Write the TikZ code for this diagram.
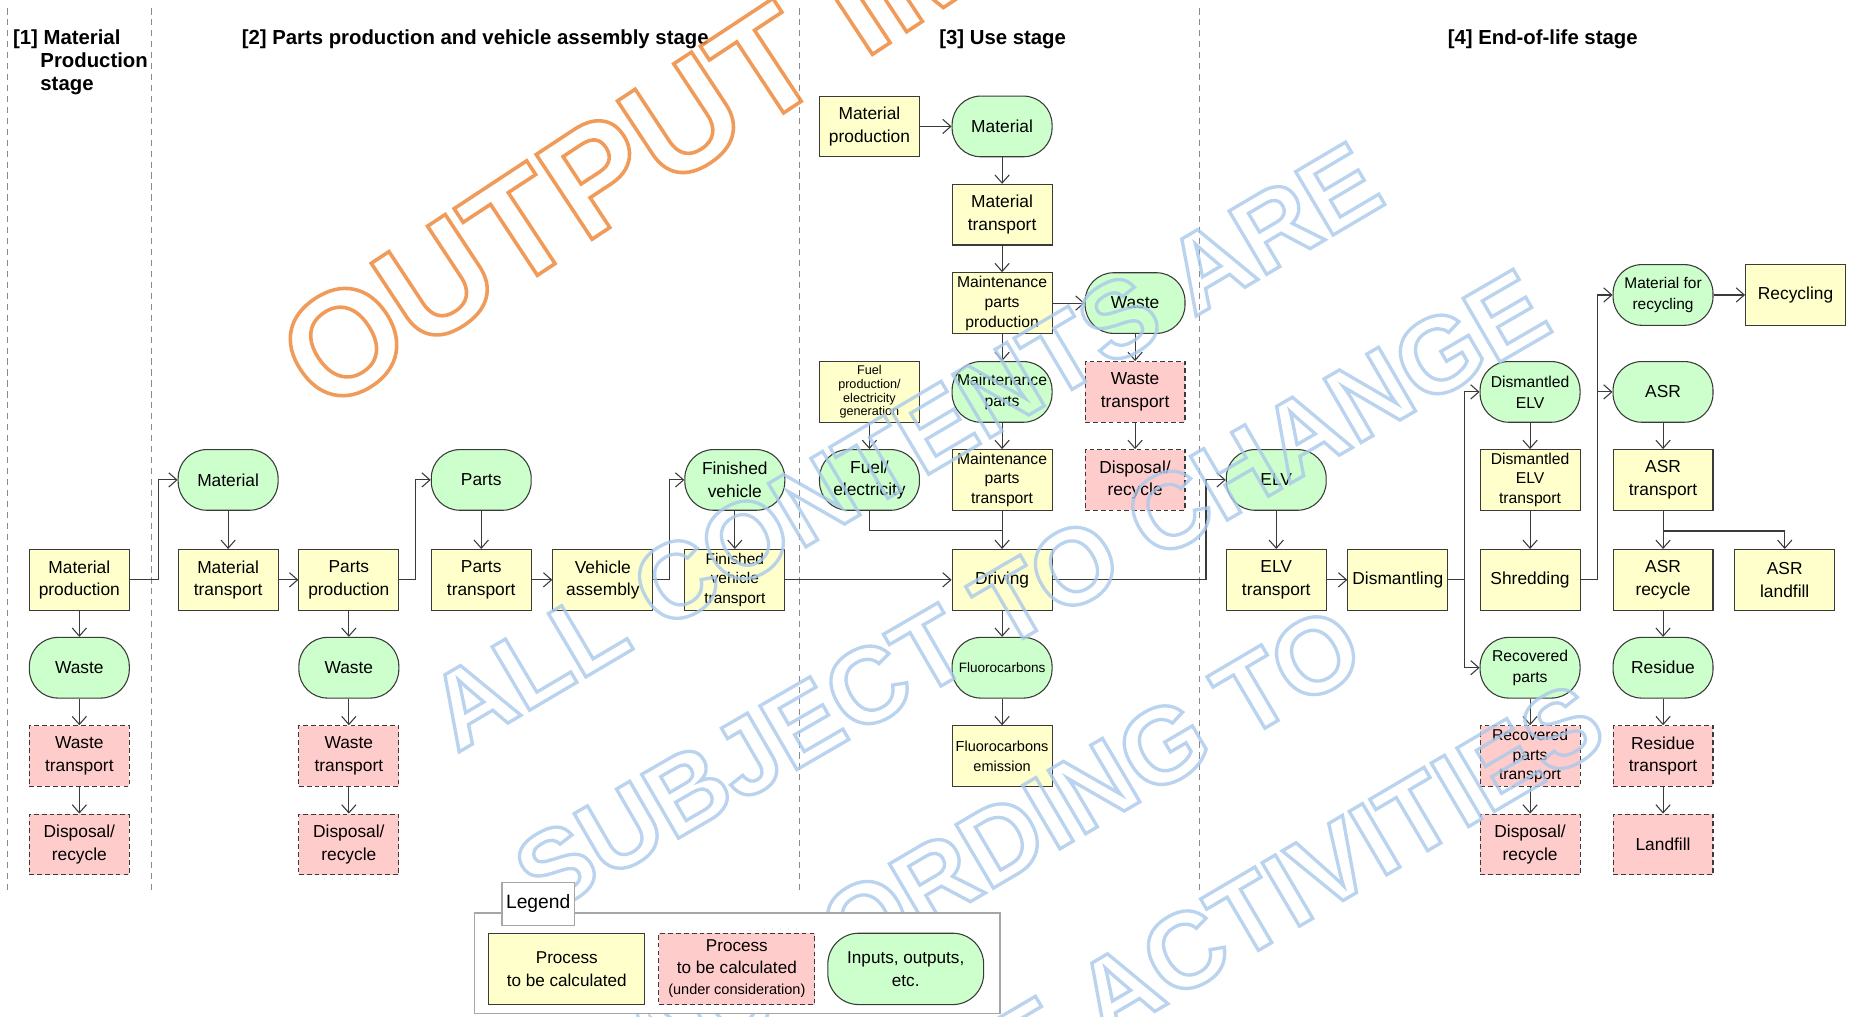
\documentclass[tikz,border=0pt]{standalone}
\usepackage{fontspec}
\setmainfont{Liberation Sans}
\usetikzlibrary{arrows.meta,calc}
\definecolor{yel}{HTML}{FFFFCC}
\definecolor{grn}{HTML}{CCFFCC}
\definecolor{pnk}{HTML}{FFCCCC}
\definecolor{edgec}{HTML}{3A3A3A}
\definecolor{sepc}{HTML}{8A8A8A}
\definecolor{lgc}{HTML}{A6A6A6}
\definecolor{wmor}{HTML}{EE8A3C}
\definecolor{wmbl}{HTML}{A9C9EA}
\tikzset{
 base/.style={draw=edgec, line width=0.45pt, minimum width=42pt, minimum height=25.5pt,
   inner sep=0.3pt, align=center, font=\fontsize{7.3}{9.5}\selectfont},
 proc/.style={base, fill=yel},
 tbd/.style={base, fill=pnk, dash pattern=on 2pt off 1.3pt},
 io/.style={base, fill=grn, rounded corners=12pt},
 smalltxt/.style={font=\fontsize{6.6}{8.4}\selectfont},
 arr/.style={draw=edgec, line width=0.45pt, -{Straight Barb[length=3.4pt,width=6pt]}},
 ln/.style={draw=edgec, line width=0.45pt},
 stagesep/.style={draw=sepc, line width=0.5pt, dash pattern=on 2.6pt off 2pt},
 hdr/.style={font=\bfseries\fontsize{8.55}{9.75}\selectfont, inner sep=0},
 wmo/.style={font=\bfseries\fontsize{62}{62}\selectfont, inner sep=0, text=wmor, opacity=0.85},
 wmb/.style={font=\bfseries\fontsize{45}{45}\selectfont, inner sep=0, text=wmbl, opacity=0.8},
}
% outlined (stroked) text: one copy only
\newcommand\outl[2]{\special{pdf:literal direct #1 w 1 Tr}#2\special{pdf:literal direct 0 Tr}}
\begin{document}
\begin{tikzpicture}[x=0.5pt,y=-0.5pt]
\useasboundingbox[fill=white] (0,0) rectangle (1568,855);

% ---------- stage separators ----------
\coordinate (s1t) at (6.5,7);   \coordinate (s1b) at (6.5,750);
\coordinate (s2t) at (127.5,7); \coordinate (s2b) at (127.5,750);
\coordinate (s3t) at (672.5,7); \coordinate (s3b) at (672.5,752);
\coordinate (s4t) at (1008.5,7);\coordinate (s4b) at (1008.5,750);
\draw[stagesep] (s1t) -- (s1b);
\draw[stagesep] (s2t) -- (s2b);
\draw[stagesep] (s3t) -- (s3b);
\draw[stagesep] (s4t) -- (s4b);

% ---------- headers ----------
\node[hdr, anchor=base west] (h1a) at (10.6,37.5) {[1] Material};
\node[hdr, anchor=base west] (h1b) at (33.6,57) {Production};
\node[hdr, anchor=base west] (h1c) at (33.6,76.5) {stage};
\node[hdr, anchor=base] (h2) at (399.5,37.5) {[2] Parts production and vehicle assembly stage};
\node[hdr, anchor=base] (h3) at (843,37.5) {[3] Use stage};
\node[hdr, anchor=base] (h4) at (1297,37.5) {[4] End-of-life stage};

% ---------- stage 1 ----------
\node[proc] (mp1) at (66.7,487.5) {Material\\production};
\node[io]   (w1)  at (66.7,561.4) {Waste};
\node[tbd]  (wt1) at (66.7,635.7) {Waste\\transport};
\node[tbd]  (dr1) at (66.7,710) {Disposal/\\recycle};

% ---------- stage 2 ----------
\node[io]   (mat2)  at (191.8,403.5) {Material};
\node[proc] (mt2)   at (191.8,487.5) {Material\\transport};
\node[proc] (pp2)   at (293.3,487.5) {Parts\\production};
\node[io]   (w2)    at (293.3,561.4) {Waste};
\node[tbd]  (wt2)   at (293.3,635.7) {Waste\\transport};
\node[tbd]  (dr2)   at (293.3,710) {Disposal/\\recycle};
\node[io]   (parts) at (404.6,403.5) {Parts};
\node[proc] (pt)    at (404.6,487.5) {Parts\\transport};
\node[proc] (va)    at (506.8,487.5) {Vehicle\\assembly};
\node[io]   (fv)    at (617.8,403.5) {Finished\\vehicle};
\node[proc, font=\fontsize{6.5}{8.3}\selectfont] (fvt) at (617.8,487.5) {Finished\\vehicle\\transport};

% ---------- stage 3 ----------
\node[proc] (mp3)   at (731,106.3) {Material\\production};
\node[io]   (mat3)  at (842.5,106.3) {Material};
\node[proc] (mt3)   at (842.5,180.5) {Material\\transport};
\node[proc, smalltxt] (mpp) at (842.5,254.8) {Maintenance\\parts\\production};
\node[io]   (w3)    at (954.3,254.8) {Waste};
\node[proc, font=\fontsize{5.3}{5.8}\selectfont] (fuelp) at (731,329.5) {Fuel\\production/\\electricity\\generation};
\node[io, font=\fontsize{6.6}{9}\selectfont] (mparts) at (842.5,329.5) {Maintenance\\parts};
\node[tbd]  (wt3)   at (954.3,329.5) {Waste\\transport};
\node[io]   (fuel)  at (731,403.5) {Fuel/\\electricity};
\node[proc, smalltxt] (mpt) at (842.5,403.5) {Maintenance\\parts\\transport};
\node[tbd]  (dr3)   at (954.3,403.5) {Disposal/\\recycle};
\node[proc] (drv)   at (842.5,487.5) {Driving};
\node[io, font=\fontsize{5.7}{7}\selectfont] (fc) at (842.5,561.4) {Fluorocarbons};
\node[proc, font=\fontsize{6.1}{8.4}\selectfont] (fce) at (842.5,635.7) {Fluorocarbons\\emission};

% ---------- stage 4 ----------
\node[io]   (elv)   at (1073,403.5) {ELV};
\node[proc] (elvt)  at (1073,487.5) {ELV\\transport};
\node[proc] (dis)   at (1175.2,487.5) {Dismantling};
\node[io, font=\fontsize{6.6}{8.8}\selectfont] (delv) at (1286.4,329.5) {Dismantled\\ELV};
\node[proc, font=\fontsize{6.6}{8.2}\selectfont] (delvt) at (1286.4,403.5) {Dismantled\\ELV\\transport};
\node[proc] (shr)   at (1286.4,487.5) {Shredding};
\node[io, font=\fontsize{6.6}{8.8}\selectfont] (recp) at (1286.4,561.4) {Recovered\\parts};
\node[tbd, font=\fontsize{6.6}{8.2}\selectfont] (recpt) at (1286.4,635.7) {Recovered\\parts\\transport};
\node[tbd]  (dr4)   at (1286.4,710) {Disposal/\\recycle};
\node[io, font=\fontsize{6.5}{8.9}\selectfont] (mfr) at (1398.2,248) {Material for\\recycling};
\node[proc] (recy)  at (1509.6,248) {Recycling};
\node[io]   (asr)   at (1398.2,329.5) {ASR};
\node[proc] (asrt)  at (1398.2,403.5) {ASR\\transport};
\node[proc] (asrr)  at (1398.2,487.5) {ASR\\recycle};
\node[proc] (asrl)  at (1500.5,487.5) {ASR\\landfill};
\node[io]   (res)   at (1398.2,561.4) {Residue};
\node[tbd]  (rest)  at (1398.2,635.7) {Residue\\transport};
\node[tbd]  (lf)    at (1398.2,710) {Landfill};

% ---------- connectors stage 1/2 ----------
\draw[arr] (mp1.east) -- ++(24,0) |- (mat2.west);
\draw[arr] (mp1.south) -- (w1.north);
\draw[arr] (w1.south) -- (wt1.north);
\draw[arr] (wt1.south) -- (dr1.north);
\draw[arr] (mat2.south) -- (mt2.north);
\draw[arr] (mt2.east) -- (pp2.west);
\draw[arr] (pp2.south) -- (w2.north);
\draw[arr] (w2.south) -- (wt2.north);
\draw[arr] (wt2.south) -- (dr2.north);
\draw[arr] (pp2.east) -- ++(13.7,0) |- (parts.west);
\draw[arr] (parts.south) -- (pt.north);
\draw[arr] (pt.east) -- (va.west);
\draw[arr] (va.east) -- ++(14,0) |- (fv.west);
\draw[arr] (fv.south) -- (fvt.north);
\draw[arr] (fvt.east) -- (drv.west);

% ---------- connectors stage 3 ----------
\draw[arr] (mp3.east) -- (mat3.west);
\draw[arr] (mat3.south) -- (mt3.north);
\draw[arr] (mt3.south) -- (mpp.north);
\draw[arr] (mpp.east) -- (w3.west);
\draw[arr] (mpp.south) -- (mparts.north);
\draw[arr] (w3.south) -- (wt3.north);
\draw[arr] (wt3.south) -- (dr3.north);
\draw[arr] (fuelp.south) -- (fuel.north);
\draw[arr] (mparts.south) -- (mpt.north);
\draw[arr] (mpt.south) -- (drv.north);
\coordinate (fj) at (842.5,446);
\draw[ln] (fuel.south) |- (fj);
\draw[arr] (drv.south) -- (fc.north);
\draw[arr] (fc.south) -- (fce.north);
\draw[arr] (drv.east) -- ++(129,0) |- (elv.west);

% ---------- connectors stage 4 ----------
\draw[arr] (elv.south) -- (elvt.north);
\draw[arr] (elvt.east) -- (dis.west);
\draw[arr] (dis.east) -- ++(13.5,0) |- (delv.west);
\draw[arr] (dis.east) -- ++(13.5,0) |- (recp.west);
\draw[arr] (delv.south) -- (delvt.north);
\draw[arr] (delvt.south) -- (shr.north);
\draw[arr] (recp.south) -- (recpt.north);
\draw[arr] (recpt.south) -- (dr4.north);
\draw[arr] (shr.east) -- ++(14.3,0) |- (mfr.west);
\draw[arr] (shr.east) -- ++(14.3,0) |- (asr.west);
\draw[arr] (mfr.east) -- (recy.west);
\draw[arr] (asr.south) -- (asrt.north);
\draw[arr] (asrt.south) -- (asrr.north);
\draw[arr] (asrt.south) -- ++(0,17) -| (asrl.north);
\draw[arr] (asrr.south) -- (res.north);
\draw[arr] (res.south) -- (rest.north);
\draw[arr] (rest.south) -- (lf.north);

% ---------- watermark (outlined text) ----------
\node[wmo, anchor=base west, rotate=33.4] (wmA) at (272,350) {\outl{1.5}{OUTPUT IM}};
\node[wmb, rotate=30.6] (wmB) at (760,375) {\outl{1.4}{ALL CONTENTS ARE}};
\node[wmb, rotate=30.1] (wmC) at (867,497) {\outl{1.4}{SUBJECT TO CHANGE}};
\node[wmb, rotate=30.5] (wmD) at (833,712) {\outl{1.4}{ACCORDING TO}};
\node[wmb, anchor=west, rotate=30.5] (wmE) at (576,1047) {\outl{1.4}{FUTURE ACTIVITIES}};

% ---------- legend (above the watermark) ----------
\node[draw=lgc, line width=0.7pt, fill=white, minimum width=221pt, minimum height=42.3pt, inner sep=0] (lgframe) at (620,809.7) {};
\node[draw=lgc, line width=0.7pt, fill=white, minimum width=30.5pt, minimum height=18pt, inner sep=0, font=\fontsize{8.1}{9}\selectfont] (lglab) at (452.5,760) {Legend};
\node[proc, minimum width=65.5pt, minimum height=30pt, font=\fontsize{7.2}{9.5}\selectfont] (lg1) at (476.5,814.6) {Process\\to be calculated};
\node[tbd, minimum width=65.5pt, minimum height=30pt, font=\fontsize{7.2}{9}\selectfont] (lg2) at (619.5,814.6) {Process\\to be calculated\\{\fontsize{6.1}{9}\selectfont(under consideration)}};
\node[io, rounded corners=13pt, minimum width=65.5pt, minimum height=30pt, font=\fontsize{7.2}{9.5}\selectfont] (lg3) at (761.5,814.6) {Inputs, outputs,\\etc.};
\end{tikzpicture}
\end{document}
